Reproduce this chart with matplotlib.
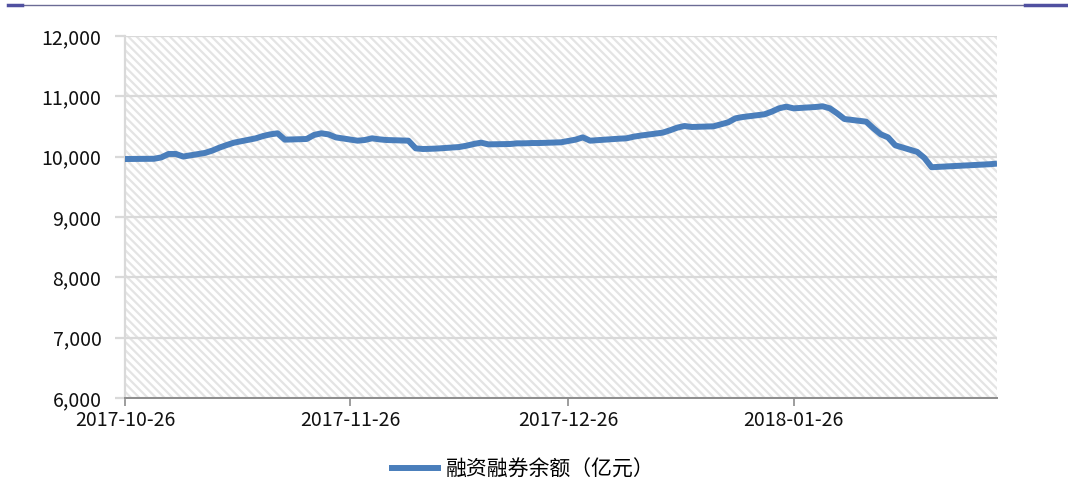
import numpy as np
import pandas as pd
import matplotlib
matplotlib.use("Agg")
import matplotlib.pyplot as plt
import matplotlib.dates as mdates
from matplotlib.patches import Rectangle
from matplotlib.lines import Line2D
from matplotlib.ticker import FuncFormatter

plt.rcParams['font.family'] = ['Noto Sans CJK SC', 'DejaVu Sans']
plt.rcParams['hatch.linewidth'] = 1.6

# trading days (weekdays, minus New Year and Spring Festival closures)
holidays = ["2018-01-01", "2018-02-15", "2018-02-16", "2018-02-19",
            "2018-02-20", "2018-02-21"]
dates = pd.bdate_range("2017-10-26", "2018-02-23")
dates = dates[~dates.isin(pd.to_datetime(holidays))]

# margin balance, 100 million yuan
balance = [
    9961, 9962, 9965, 9988, 10045, 10045, 10002,                 # Oct 26 - Nov 3
    10062, 10100, 10150, 10193, 10232,                           # Nov 6 - 10
    10304, 10342, 10370, 10387, 10282,                           # Nov 13 - 17
    10293, 10359, 10387, 10370, 10320,                           # Nov 20 - 24
    10265, 10276, 10304, 10287, 10276,                           # Nov 27 - Dec 1
    10265, 10138, 10127, 10130, 10135,                           # Dec 4 - 8
    10160, 10182, 10210, 10232, 10204,                           # Dec 11 - 15
    10210, 10221, 10221, 10226, 10226,                           # Dec 18 - 22
    10238, 10260, 10282, 10320, 10265,                           # Dec 25 - 29
    10298, 10304, 10331, 10350,                                  # Jan 2 - 5
    10398, 10437, 10481, 10508, 10492,                           # Jan 8 - 12
    10503, 10536, 10569, 10635, 10657,                           # Jan 15 - 19
    10702, 10746, 10801, 10829, 10801,                           # Jan 22 - 26
    10823, 10835, 10801, 10718, 10624,                           # Jan 29 - Feb 2
    10580, 10470, 10370, 10320, 10188,                           # Feb 5 - 9
    10080, 9980, 9825,                                           # Feb 12 - 14
    9875, 9885,                                                  # Feb 22 - 23
]

tick_dates = ["2017-10-26", "2017-11-26", "2017-12-26", "2018-01-26"]
series_name = "融资融券余额（亿元）"

fig = plt.figure(figsize=(10.68, 4.8), dpi=100)
ax = fig.add_axes([125 / 1068, 1 - 398 / 480, 872 / 1068, 362 / 480])

# hatched plot area
ax.add_patch(Rectangle((0, 0), 1, 1, transform=ax.transAxes, facecolor="white",
                       edgecolor="#E4E4E4", hatch="\\\\\\\\", lw=0, zorder=0))

ax.plot(dates, balance, color="#4A7EBB", lw=4.3, solid_joinstyle="round",
        solid_capstyle="butt", label=series_name, zorder=3)

ax.set_ylim(6000, 12000)
ax.set_yticks(range(6000, 12001, 1000))
ax.yaxis.set_major_formatter(FuncFormatter(lambda v, p: f"{int(v):,}"))
ax.grid(axis="y", color="#D9D9D9", lw=1.6, zorder=1)

ax.set_xlim(pd.Timestamp("2017-10-26"), pd.Timestamp("2018-02-23"))
ax.set_xticks(pd.to_datetime(tick_dates))
ax.xaxis.set_major_formatter(mdates.DateFormatter("%Y-%m-%d"))

for s in ["top", "right"]:
    ax.spines[s].set_visible(False)
ax.spines["left"].set_color("#D9D9D9")
ax.spines["left"].set_linewidth(1.6)
ax.spines["bottom"].set_color("#8C8C8C")
ax.spines["bottom"].set_linewidth(1.4)
ax.tick_params(axis="y", length=7, width=1.6, color="#D9D9D9",
               labelsize=14, labelcolor="#111111", pad=10)
ax.tick_params(axis="x", length=6, width=1.2, color="#8C8C8C",
               labelsize=14, labelcolor="#111111", pad=3)

ax.legend(loc="upper center", bbox_to_anchor=(0.455, -0.115), frameon=False,
          fontsize=15, handlelength=2.5, handletextpad=0.25)

# header rule
fig.add_artist(Line2D([10 / 1068, 1050 / 1068], [1 - 5 / 480] * 2,
                      color="#6B6B95", lw=1.0))
fig.add_artist(Line2D([8 / 1068, 22 / 1068], [1 - 5 / 480] * 2,
                      color="#5050A0", lw=2.5))
fig.add_artist(Line2D([1025 / 1068, 1066 / 1068], [1 - 5 / 480] * 2,
                      color="#5050A0", lw=2.5))

fig.savefig("out.png", dpi=100)
